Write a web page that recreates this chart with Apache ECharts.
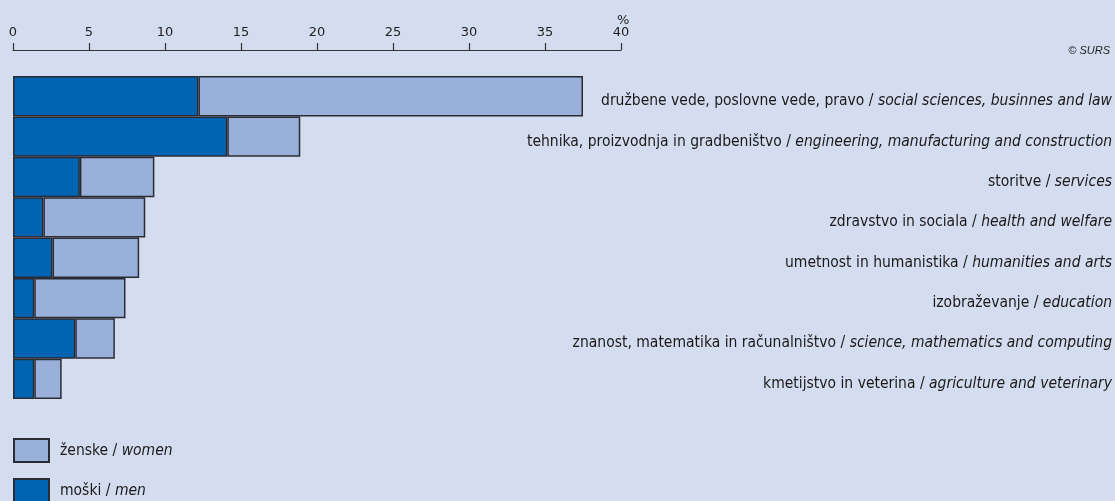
<!DOCTYPE html>
<html>
<head>
<meta charset="utf-8">
<script src="https://cdn.jsdelivr.net/npm/echarts@6/dist/echarts.min.js"></script>
<style>
  html, body { margin: 0; padding: 0; background: #d4dcef; }
  #chart { width: 1115px; height: 501px; }
</style>
</head>
<body>
<div id="chart"></div>
<script>
// fields of study, top to bottom
const categories = [
  'družbene vede, poslovne vede, pravo / social sciences, businnes and law',
  'tehnika, proizvodnja in gradbeništvo / engineering, manufacturing and construction',
  'storitve / services',
  'zdravstvo in sociala / health and welfare',
  'umetnost in humanistika / humanities and arts',
  'izobraževanje / education',
  'znanost, matematika in računalništvo / science, mathematics and computing',
  'kmetijstvo in veterina / agriculture and veterinary'
]
const men = [12.2, 14.1, 4.4, 2.0, 2.6, 1.4, 4.1, 1.4]
const women = [25.3, 4.8, 4.9, 6.7, 5.7, 6.0, 2.6, 1.8]
const seriesNames = ['moški / men', 'ženske / women']

const labelFont = '"Liberation Sans Narrow", "DejaVu Sans Condensed", "Liberation Sans", sans-serif'

// "slovensko / english" -> english part in italics
function splitLabel(name) {
  const i = name.indexOf(' / ')
  return '{n|' + name.slice(0, i) + ' / }{i|' + name.slice(i + 3) + '}'
}

const legendText = {
  padding: [0, 0, 0, 6],
  rich: {
    n: { fontSize: 15.5, fontFamily: labelFont, color: '#1a1a1a' },
    i: { fontSize: 15.5, fontFamily: labelFont, fontStyle: 'italic', color: '#1a1a1a' }
  }
}

// one legend per item so they stack like in the original
function legendItem(name, top) {
  return {
    data: [name],
    orient: 'vertical',
    left: 13,
    top: top,
    padding: 0,
    itemWidth: 35,
    itemHeight: 23,
    icon: 'rect',
    selectedMode: false,
    formatter: splitLabel,
    textStyle: legendText
  }
}

const chart = echarts.init(document.getElementById('chart'))
chart.setOption({
  backgroundColor: '#d4dcef',
  animation: false,
  grid: {
    left: 13,
    right: 494,
    top: 76,
    bottom: 102,
    containLabel: false,
    outerBoundsMode: 'none'
  },
  xAxis: {
    type: 'value',
    position: 'top',
    offset: 26,
    min: 0,
    max: 40,
    interval: 5,
    axisLine: { show: true, lineStyle: { color: '#333', width: 1.2 } },
    axisTick: { show: true, length: 7, lineStyle: { color: '#333', width: 1.2 } },
    axisLabel: {
      margin: 11,
      color: '#222',
      fontSize: 13,
      fontFamily: '"DejaVu Sans", sans-serif'
    },
    splitLine: { show: false }
  },
  yAxis: {
    type: 'category',
    data: categories,
    inverse: true,
    position: 'right',
    axisLine: { show: false },
    axisTick: { show: false },
    axisLabel: {
      margin: 491,
      align: 'right',
      formatter: splitLabel,
      rich: {
        n: { fontSize: 15.5, fontFamily: labelFont, color: '#1a1a1a', padding: [10, 0, 0, 0] },
        i: { fontSize: 15.5, fontFamily: labelFont, fontStyle: 'italic', color: '#1a1a1a', padding: [10, 0, 0, 0] }
      }
    }
  },
  legend: [
    legendItem(seriesNames[1], 438),
    legendItem(seriesNames[0], 478)
  ],
  graphic: [
    {
      type: 'text',
      left: 617,
      top: 14,
      style: { text: '%', fontSize: 13, fontFamily: '"DejaVu Sans", sans-serif', fill: '#222' }
    },
    {
      type: 'text',
      right: 5,
      top: 45,
      style: { text: '© SURS', fontSize: 11, fontStyle: 'italic', fontFamily: '"Liberation Sans", sans-serif', fill: '#222' }
    }
  ],
  series: [
    {
      name: seriesNames[0],
      type: 'bar',
      stack: 'total',
      barCategoryGap: '0%',
      data: men,
      itemStyle: { color: '#0064b3', borderColor: '#2b2b33', borderWidth: 1.5 }
    },
    {
      name: seriesNames[1],
      type: 'bar',
      stack: 'total',
      barCategoryGap: '0%',
      data: women,
      itemStyle: { color: '#98b0da', borderColor: '#2b2b33', borderWidth: 1.5 }
    }
  ]
})
</script>
</body>
</html>
